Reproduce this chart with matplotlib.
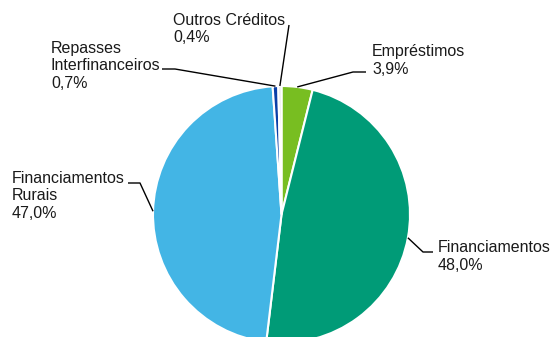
import numpy as np
import matplotlib.pyplot as plt

plt.rcParams['font.family'] = ['Liberation Sans', 'DejaVu Sans']

# data
labels = ['Empréstimos', 'Financiamentos', 'Financiamentos\nRurais',
          'Repasses\nInterfinanceiros', 'Outros Créditos']
values = [3.9, 48.0, 47.0, 0.7, 0.4]
pct_text = ['3,9%', '48,0%', '47,0%', '0,7%', '0,4%']
colors = ['#78BE21', '#009B77', '#43B5E5', '#0A3FA8', '#E4E4E4']

# layout in pixel units (figure is 554x337 px)
W, H = 554, 337
cx, cy, R = 281.5, H - 214.5, 128.5
# (text left x, first baseline y, elbow points) in pixel coords, y from top
label_pos = [
    (372, 56, [(353, 72), (366, 72)]),
    (438, 252, [(423, 252), (433, 252)]),
    (12, 183, [(140, 183), (128, 183)]),
    (51, 53, [(175, 69), (162, 69)]),
    (173, 25, [(289, 25)]),
]
line_h = 17.5

fig = plt.figure(figsize=(W / 100, H / 100), dpi=100)
ax = fig.add_axes([0, 0, 1, 1])
ax.axis('off')

wedges, _ = ax.pie(values, colors=colors, startangle=90, counterclock=False,
                   center=(cx, cy), radius=R,
                   wedgeprops=dict(edgecolor='white', linewidth=1.5))
ax.set_xlim(0, W)
ax.set_ylim(0, H)
ax.set_aspect('equal')

for w, lab, pct, (tx, ty, elbow) in zip(wedges, labels, pct_text, label_pos):
    ang = np.radians((w.theta1 + w.theta2) / 2)
    px = cx + R * np.cos(ang)
    py = cy + R * np.sin(ang)
    xs = [px] + [e[0] for e in elbow]
    ys = [py] + [H - e[1] for e in elbow]
    ax.plot(xs, ys, color='black', lw=1.0, solid_capstyle='butt')
    lines = lab.split('\n') + [pct]
    for i, t in enumerate(lines):
        ax.text(tx, H - (ty + i * line_h), t, fontsize=11.5,
                ha='left', va='baseline', color='#1a1a1a')

fig.savefig('out.png', dpi=100)
